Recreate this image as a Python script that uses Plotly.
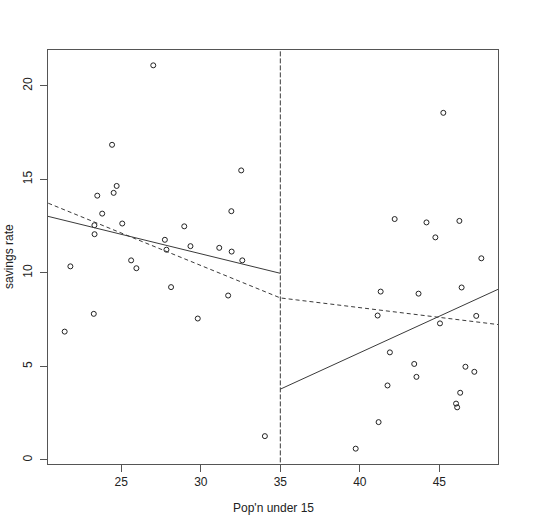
import numpy as np
import plotly.graph_objects as go

# LifeCycleSavings: population under 15 (%) and savings rate
pop15 = [29.35, 23.32, 23.80, 41.89, 42.19, 31.72, 39.74, 44.75, 46.64, 47.64,
         24.42, 46.31, 27.84, 25.06, 23.31, 25.62, 46.05, 47.32, 34.03, 41.31,
         31.16, 24.52, 27.01, 41.74, 21.80, 32.54, 25.95, 24.71, 32.61, 45.04,
         43.56, 41.18, 44.19, 46.26, 28.96, 31.94, 31.92, 27.74, 21.44, 23.49,
         43.42, 46.12, 23.27, 29.81, 46.40, 45.25, 41.12, 28.13, 43.69, 47.20]
sr = [11.43, 12.07, 13.17, 5.75, 12.88, 8.79, 0.60, 11.90, 4.98, 10.78,
      16.85, 3.59, 11.24, 12.64, 12.55, 10.67, 3.01, 7.70, 1.27, 9.00,
      11.34, 14.28, 21.10, 3.98, 10.35, 15.48, 10.25, 14.65, 10.67, 7.30,
      4.44, 2.02, 12.70, 12.78, 12.49, 11.14, 13.30, 11.77, 6.86, 14.13,
      5.13, 2.81, 7.81, 7.56, 9.22, 18.56, 7.72, 9.24, 8.89, 4.71]
x_ticks = [25, 30, 35, 40, 45]
y_ticks = [0, 5, 10, 15, 20]
breakpoint_x = 35

x = np.array(pop15)
y = np.array(sr)

# separate regressions on each side of the break
lm = x < breakpoint_x
b1 = np.polyfit(x[lm], y[lm], 1)
b2 = np.polyfit(x[~lm], y[~lm], 1)

# broken-stick regression
lhs = lambda v: np.where(v < breakpoint_x, breakpoint_x - v, 0.0)
rhs = lambda v: np.where(v < breakpoint_x, 0.0, v - breakpoint_x)
X = np.column_stack([np.ones_like(x), lhs(x), rhs(x)])
gb, *_ = np.linalg.lstsq(X, y, rcond=None)
xs = np.arange(20, 51, 1.0)
py = gb[0] + gb[1] * lhs(xs) + gb[2] * rhs(xs)

xl = np.array([20.0, 35.0])
xr = np.array([35.0, 50.0])

line_col = "#3a3a3a"
fig = go.Figure()
fig.add_trace(go.Scatter(x=pop15, y=sr, mode="markers",
                         marker=dict(symbol="circle-open", size=5, color="#222222",
                                     line=dict(width=1, color="#222222")),
                         showlegend=False, hoverinfo="skip"))
fig.add_trace(go.Scatter(x=xl, y=np.polyval(b1, xl), mode="lines",
                         line=dict(color=line_col, width=1), showlegend=False))
fig.add_trace(go.Scatter(x=xr, y=np.polyval(b2, xr), mode="lines",
                         line=dict(color=line_col, width=1), showlegend=False))
fig.add_trace(go.Scatter(x=xs, y=py, mode="lines",
                         line=dict(color=line_col, width=1, dash="4px,3px"), showlegend=False))
fig.add_trace(go.Scatter(x=[breakpoint_x, breakpoint_x], y=[-5, 30], mode="lines",
                         line=dict(color=line_col, width=1, dash="5px,2px"), showlegend=False))

axis_common = dict(showline=True, linecolor="#555555", linewidth=1, mirror=True,
                   ticks="outside", ticklen=7, tickcolor="#555555", showgrid=False,
                   zeroline=False, automargin=False,
                   tickfont=dict(family="Liberation Sans, Arial", size=12, color="#222222"))
xmin, xmax = min(pop15), max(pop15)
ymin, ymax = min(sr), max(sr)
fig.update_xaxes(range=[xmin - 0.04 * (xmax - xmin), xmax + 0.04 * (xmax - xmin)],
                 tickvals=x_ticks, **axis_common)
fig.update_yaxes(range=[ymin - 0.04 * (ymax - ymin), ymax + 0.04 * (ymax - ymin)],
                 tickvals=y_ticks, tickangle=-90, ticklabelstandoff=3, **axis_common)

fig.add_annotation(text="Pop'n under 15", xref="paper", yref="paper", x=0.5, y=0,
                   yshift=-44, yanchor="middle", showarrow=False,
                   font=dict(family="Liberation Sans, Arial", size=12, color="#222222"))
fig.add_annotation(text="savings rate", xref="paper", yref="paper", x=0, y=0.5,
                   xshift=-39, xanchor="center", textangle=-90, showarrow=False,
                   font=dict(family="Liberation Sans, Arial", size=12, color="#222222"))

fig.update_layout(width=554, height=527, margin=dict(l=48, r=56, t=50, b=63),
                  plot_bgcolor="white", paper_bgcolor="white", hovermode=False)
fig.write_html("out.html", config={"displayModeBar": False, "staticPlot": True},
               post_script="document.body.style.margin='0';document.body.style.overflow='hidden';")
